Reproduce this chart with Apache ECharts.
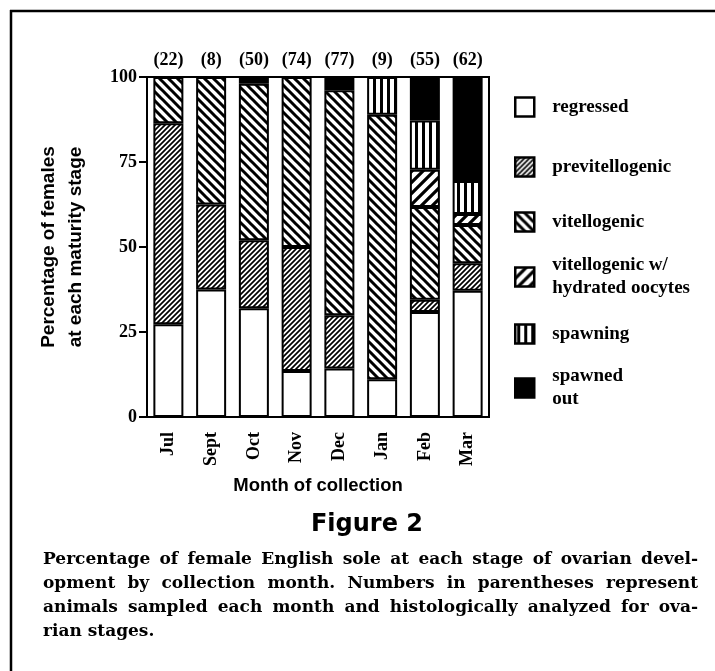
<!DOCTYPE html>
<html><head><meta charset="utf-8">
<script src="https://cdn.jsdelivr.net/npm/echarts@6/dist/echarts.min.js"></script>
<style>html,body{margin:0;padding:0;background:#fff}#c{width:715px;height:671px}</style>
</head><body><div id="c"></div>
<script>
// ---- data ----
const months = ['Jul', 'Sept', 'Oct', 'Nov', 'Dec', 'Jan', 'Feb', 'Mar'];
const sampleSizes = ['(22)', '(8)', '(50)', '(74)', '(77)', '(9)', '(55)', '(62)'];
const stageNames = ['regressed', 'previtellogenic', 'vitellogenic', 'vitellogenic w/ hydrated oocytes', 'spawning', 'spawned out'];
const stageLabels = ['regressed', 'previtellogenic', 'vitellogenic', 'vitellogenic w/\nhydrated oocytes', 'spawning', 'spawned\nout'];
const regressed       = [27.3, 37.5, 32.0, 13.5, 14.3, 11.1, 30.9, 37.1];
const previtellogenic = [59.1, 25.0, 20.0, 36.5, 15.6, 0,    3.6,  8.1];
const vitellogenic    = [13.6, 37.5, 46.0, 50.0, 66.2, 77.8, 27.3, 11.3];
const hydrated        = [0,    0,    0,    0,    0,    0,    10.9, 3.2];
const spawning        = [0,    0,    0,    0,    0,    11.1, 14.5, 9.7];
const spawnedOut      = [0,    0,    2.0,  0,    3.9,  0,    12.7, 30.6];
const yTicks = [0, 25, 50, 75, 100];
const captionLines = [
  'Percentage of female English sole at each stage of ovarian devel-',
  'opment by collection month. Numbers in parentheses represent',
  'animals sampled each month and histologically analyzed for ova-',
  'rian stages.'
];

// ---- patterns ----
function tile(size, draw) {
  const c = document.createElement('canvas');
  c.width = size; c.height = size;
  const g = c.getContext('2d');
  g.fillStyle = '#fff'; g.fillRect(0, 0, size, size);
  g.strokeStyle = '#000'; g.fillStyle = '#000';
  draw(g, size);
  return { image: c, repeat: 'repeat' };
}
function fwd(lw) {
  return function (g, s) {
    g.lineWidth = lw; g.beginPath();
    g.moveTo(-2, s + 2); g.lineTo(s + 2, -2);
    g.moveTo(-2, 2); g.lineTo(2, -2);
    g.moveTo(s - 2, s + 2); g.lineTo(s + 2, s - 2);
    g.stroke();
  };
}
function back(lw) {
  return function (g, s) {
    g.lineWidth = lw; g.beginPath();
    g.moveTo(-2, -2); g.lineTo(s + 2, s + 2);
    g.moveTo(-2, s - 2); g.lineTo(2, s + 2);
    g.moveTo(s - 2, -2); g.lineTo(s + 2, 2);
    g.stroke();
  };
}
const fills = [
  '#ffffff',
  tile(5, fwd(1.7)),
  tile(9, back(3)),
  tile(11, fwd(3.2)),
  tile(7, function (g, s) { g.fillRect(2, 0, 3, s); }),
  '#000000'
];

const stageData = [regressed, previtellogenic, vitellogenic, hydrated, spawning, spawnedOut];

// ---- caption layout (justified) ----
const capFont = 'bold 17px "DejaVu Serif"';
const mctx = document.createElement('canvas').getContext('2d');
mctx.font = capFont;
const capLeft = 43, capRight = 698, capY0 = 560, capLH = 24;
const captionElems = [];
captionLines.forEach(function (line, li) {
  const y = capY0 + li * capLH;
  const words = line.split(' ');
  const last = li === captionLines.length - 1;
  const widths = words.map(w => mctx.measureText(w).width);
  const total = widths.reduce((a, b) => a + b, 0);
  const gap = last ? mctx.measureText(' ').width : (capRight - capLeft - total) / (words.length - 1);
  let x = capLeft;
  words.forEach(function (w, wi) {
    captionElems.push({ type: 'text', x: x, y: y, silent: true,
      style: { text: w, font: capFont, fill: '#000', textVerticalAlign: 'middle', verticalAlign: 'middle' } });
    x += widths[wi] + gap;
  });
});

const legendCenters = [107, 167, 222, 277, 334, 388];
const serifBold = { fontFamily: 'Liberation Serif', fontWeight: 'bold', color: '#000' };

const chart = echarts.init(document.getElementById('c'), null, { renderer: 'canvas' });
chart.setOption({
  animation: false,
  backgroundColor: '#fff',
  grid: { left: 147, top: 77, width: 342, height: 340, show: true, borderColor: '#000', borderWidth: 2, backgroundColor: 'transparent' },
  xAxis: [
    {
      type: 'category', data: months, position: 'bottom',
      axisLine: { lineStyle: { color: '#000', width: 2 } },
      axisTick: { alignWithLabel: true, length: 9, lineStyle: { color: '#000', width: 2 } },
      axisLabel: Object.assign({ rotate: 90, fontSize: 18, margin: 15 }, serifBold),
      name: 'Month of collection', nameLocation: 'middle', nameGap: 59,
      nameTextStyle: { fontFamily: 'Liberation Sans', fontWeight: 'bold', fontSize: 18.5, color: '#000' }
    },
    {
      type: 'category', data: sampleSizes, position: 'top',
      axisLine: { show: false }, axisTick: { show: false },
      axisLabel: Object.assign({ fontSize: 18, margin: 8 }, serifBold)
    }
  ],
  yAxis: {
    type: 'value', min: 0, max: 100, interval: 25,
    axisLine: { show: true, lineStyle: { color: '#000', width: 2 } },
    axisTick: { show: true, length: 8, lineStyle: { color: '#000', width: 2 } },
    axisLabel: Object.assign({ fontSize: 18, margin: 10, formatter: v => yTicks.indexOf(v) >= 0 ? String(v) : '' }, serifBold),
    splitLine: { show: false },
    name: 'Percentage of females\nat each maturity stage', nameLocation: 'middle', nameGap: 58,
    nameTextStyle: { fontFamily: 'Liberation Sans', fontWeight: 'bold', fontSize: 19, lineHeight: 27, color: '#000' }
  },
  legend: stageNames.map(function (n, i) {
    const twoLine = stageLabels[i].indexOf('\n') >= 0;
    const h = twoLine ? 46 : 23;
    return {
      data: [n], left: 514, top: legendCenters[i] - h / 2, padding: 0,
      orient: 'vertical', icon: 'rect', itemWidth: 19, itemHeight: 19, selectedMode: false,
      formatter: () => stageLabels[i],
      itemStyle: { borderColor: '#000', borderWidth: 2.5 },
      textStyle: Object.assign({ fontSize: 19, lineHeight: 23, padding: [0, 0, 0, 13] }, serifBold)
    };
  }),
  series: stageNames.map(function (n, i) {
    return {
      name: n, type: 'bar', stack: 'all', barWidth: 30,
      data: stageData[i].map(v => v === 0 ? '-' : v),
      itemStyle: { color: fills[i], borderColor: '#000', borderWidth: 2 },
      emphasis: { disabled: true }
    };
  }),
  graphic: [
    { type: 'line', silent: true, shape: { x1: 10, y1: 11, x2: 715, y2: 11 }, style: { stroke: '#000', lineWidth: 2.5 } },
    { type: 'line', silent: true, shape: { x1: 11, y1: 10, x2: 11, y2: 671 }, style: { stroke: '#000', lineWidth: 2.5 } },
    { type: 'text', x: 367, y: 525, silent: true,
      style: { text: 'Figure 2', font: 'bold 24px "DejaVu Sans"', fill: '#000', textAlign: 'center', textVerticalAlign: 'middle', align: 'center', verticalAlign: 'middle' } }
  ].concat(captionElems)
});
</script>
</body></html>
